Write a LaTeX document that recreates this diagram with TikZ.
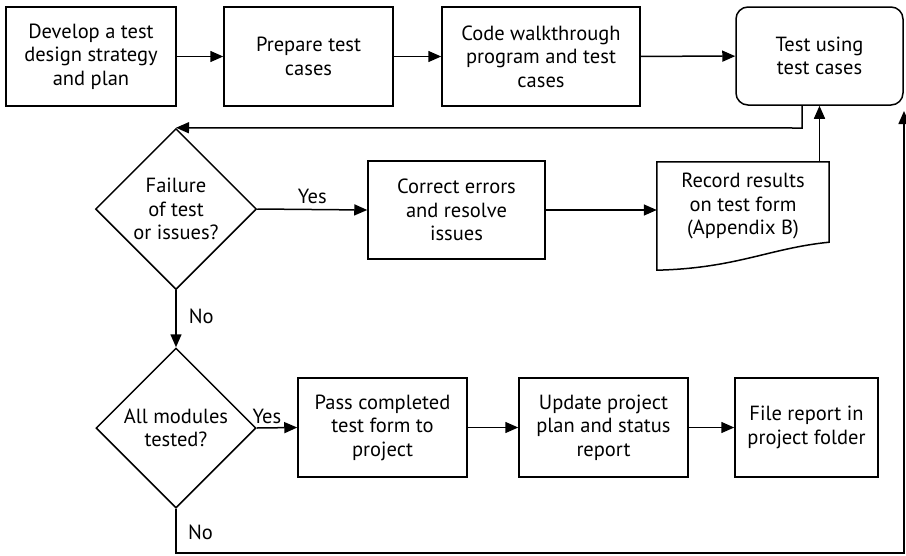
\documentclass[tikz,border=0pt]{standalone}
\usepackage{fontspec}
\setmainfont{PT Sans}
\usetikzlibrary{arrows.meta,calc,shapes.geometric}
\begin{document}
\begin{tikzpicture}[x=1pt,y=-1pt,
  every node/.style={font=\fontsize{20.5}{23.5}\selectfont},
  stepbox/.style={draw,line width=1.5pt,rectangle,align=center,inner sep=0pt,
    minimum height=99pt},
  roundbox/.style={stepbox,rounded corners=12pt},
  decision/.style={draw,line width=1.5pt,diamond,aspect=1,align=center,inner sep=0pt,
    minimum width=161pt,minimum height=161pt},
  doctext/.style={rectangle,align=center,inner sep=0pt,minimum width=172pt,minimum height=80pt},
  outline/.style={line width=1.5pt},
  arr/.style={line width=1.5pt,-{Triangle[length=13pt,width=11pt]}},
  lbl/.style={inner sep=0pt}
]
\useasboundingbox (0,0) rectangle (906,555);

% top row
\node[stepbox,minimum width=170pt] (b1) at (91,56.5) {Develop a test\\design strategy\\and plan};
\node[stepbox,minimum width=169pt] (b2) at (308.5,56.5) {Prepare test\\cases};
\node[stepbox,minimum width=198pt] (b3) at (541,56.5) {Code walkthrough\\program and test\\cases};
\node[roundbox,minimum width=167pt,minimum height=98pt] (t4) at (819.5,56) {Test using\\test cases};

% failure check row
\node[decision] (d1) at (176,209) {Failure\\of test\\or issues?};
\node[stepbox,minimum width=177pt,minimum height=98pt] (cor) at (456.5,210) {Correct errors\\and resolve\\issues};
\node[doctext] (rec) at (743,206) {Record results\\on test form\\(Appendix B)};
\draw[outline] ($(rec.north west)+(0,-4)$) -- ($(rec.north east)+(0,-4)$)
  -- ($(rec.south east)+(0,-4)$)
  .. controls ($(rec.south east)+(-60,2)$) and ($(rec.south west)+(80,22)$) .. ($(rec.south west)+(0,24)$)
  -- cycle;

% completion row
\node[decision,minimum width=160pt,minimum height=160pt] (d2) at (176,428) {All modules\\tested?};
\node[stepbox,minimum width=169pt] (pass) at (382.5,427.5) {Pass completed\\test form to\\project};
\node[stepbox,minimum width=169pt] (upd) at (603.5,427.5) {Update project\\plan and status\\report};
\node[stepbox,minimum width=143pt] (file) at (806.5,427.5) {File report in\\project folder};

% routing points
\coordinate (c1) at (802,128);
\coordinate (c2) at (176,553);
\coordinate (c3) at (904,553);
\coordinate (c4) at (904,111);

% connectors
\draw[arr] (b1) -- (b2);
\draw[arr] (b2) -- (b3);
\draw[arr] (b3) -- (t4);
\draw[arr] (t4.south -| c1) -- (c1) -- (d1.north);
\draw[arr] (d1.east) -- node[lbl,above=5pt,pos=0.5] {Yes} (cor.west);
\draw[arr] (cor.east) -- (cor.east -| rec.west);
\draw[arr] ($(t4.south |- rec.north)+(0,-4)$) -- (t4.south);
\draw[arr] (d1.south) -- (d2.north) node[lbl,anchor=west,pos=0.45,xshift=12pt] {No};
\draw[arr] (d2.east) -- (pass.west) node[lbl,anchor=south,pos=0.25,yshift=3pt] {Yes};
\draw[arr] (pass) -- (upd);
\draw[arr] (upd) -- (file);
\draw[arr] (d2.south) -- (c2) -- (c3) -- (c4);
\node[lbl,anchor=west] (no2) at (188,532) {No};
\end{tikzpicture}
\end{document}
